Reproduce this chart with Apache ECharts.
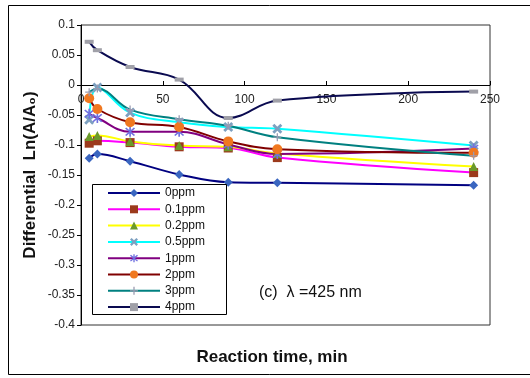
<!DOCTYPE html>
<html>
<head>
<meta charset="utf-8">
<script src="https://cdn.jsdelivr.net/npm/echarts@6/dist/echarts.min.js"></script>
<style>html,body{margin:0;padding:0;background:#fff;}#c{width:530px;height:378px;}</style>
</head>
<body>
<div id="c"></div>
<script>
const times = [5, 10, 30, 60, 90, 120, 240];
const seriesNames = ['0ppm', '0.1ppm', '0.2ppm', '0.5ppm', '1ppm', '2ppm', '3ppm', '4ppm'];
const ppm0   = [-0.122, -0.115, -0.127, -0.149, -0.162, -0.163, -0.167];
const ppm01  = [-0.097, -0.093, -0.096, -0.103, -0.105, -0.121, -0.146];
const ppm02  = [-0.086, -0.084, -0.094, -0.101, -0.103, -0.114, -0.136];
const ppm05  = [-0.058, -0.004, -0.046, -0.062, -0.070, -0.073, -0.101];
const ppm1   = [-0.048, -0.055, -0.078, -0.078, -0.099, -0.115, -0.106];
const ppm2   = [-0.022, -0.040, -0.062, -0.070, -0.094, -0.107, -0.113];
const ppm3   = [-0.012, -0.006, -0.041, -0.057, -0.068, -0.087, -0.118];
const ppm4   = [0.072, 0.058, 0.030, 0.009, -0.055, -0.026, -0.011];
const yTicks = ['0.1','0.05','0','-0.05','-0.1','-0.15','-0.2','-0.25','-0.3','-0.35','-0.4'];

const allData = [ppm0, ppm01, ppm02, ppm05, ppm1, ppm2, ppm3, ppm4];
const lineColors = ['#000080', '#ff00ff', '#ffff00', '#00ffff', '#800080', '#800000', '#008080', '#0a0a50'];
const markColors = ['#3a66c0', '#9c3a1c', '#6b9a2a', '#7da0c0', '#7070e0', '#f07820', '#9a9ab0', '#a0a0a8'];
const X = 'path://M2,0 L5,3 L8,0 L10,2 L7,5 L10,8 L8,10 L5,7 L2,10 L0,8 L3,5 L0,2 Z';
const STAR = 'path://M4.3,0 H5.7 V10 H4.3 Z M0.8,1.8 L1.8,0.8 L9.2,8.2 L8.2,9.2 Z M8.2,0.8 L9.2,1.8 L1.8,9.2 L0.8,8.2 Z';
const PLUS = 'path://M4.2,0 H5.8 V4.2 H10 V5.8 H5.8 V10 H4.2 V5.8 H0 V4.2 H4.2 Z';
const DASH = 'path://M0,4 H10 V6 H0 Z';
const symbols = ['diamond', 'rect', 'triangle', X, STAR, 'circle', PLUS, DASH];
const sizes = [9, 9, 9, 10, 10, 10, 8, [9, 4]];

const series = seriesNames.map((n, i) => ({
  name: n,
  type: 'line',
  smooth: 0.4,
  data: times.map((t, j) => [t, allData[i][j]]),
  symbol: symbols[i],
  symbolSize: sizes[i],
  showAllSymbol: true,
  lineStyle: { color: lineColors[i], width: 2 },
  itemStyle: { color: markColors[i], borderWidth: 0 },
  emphasis: { disabled: true },
  z: 2
}));

const chart = echarts.init(document.getElementById('c'), null, { renderer: 'canvas' });
chart.setOption({
  animation: false,
  backgroundColor: '#fff',
  grid: { left: 81, right: 40, top: 25, bottom: 53, show: true, borderColor: '#333', borderWidth: 1, backgroundColor: 'transparent' },
  xAxis: {
    type: 'value', min: 0, max: 250, interval: 50, offset: -240,
    axisLine: { onZero: false, lineStyle: { color: '#000', width: 1 } },
    axisTick: { show: true, inside: true, length: 4, lineStyle: { color: '#000' } },
    axisLabel: { color: '#222', fontSize: 12, fontFamily: 'Liberation Sans, Arial', margin: 9 },
    splitLine: { show: false }
  },
  yAxis: {
    type: 'value', min: -0.4, max: 0.1, interval: 0.05,
    axisLine: { show: true, lineStyle: { color: '#000', width: 1 } },
    axisTick: { show: true, length: 4, lineStyle: { color: '#000' } },
    axisLabel: { color: '#222', fontSize: 12, fontFamily: 'Liberation Sans, Arial', margin: 6,
      formatter: v => { const s = yTicks.find(t => Math.abs(parseFloat(t) - v) < 1e-6); return s !== undefined ? s : ''; } },
    splitLine: { show: false }
  },
  legend: {
    orient: 'vertical', left: 102, top: 182, z: 20,
    itemWidth: 52, itemHeight: 10, itemGap: 4.3,
    textStyle: { fontSize: 12, color: '#111', fontFamily: 'Liberation Sans, Arial', lineHeight: 12 },
    data: seriesNames, selectedMode: false
  },
  graphic: [
    { type: 'rect', shape: { x: 8.5, y: 5.5, width: 530, height: 369 }, style: { fill: 'none', stroke: '#000', lineWidth: 1 }, silent: true, z: 0 },
    { type: 'rect', shape: { x: 92.5, y: 184.5, width: 134, height: 130 }, style: { fill: '#fff', stroke: '#000', lineWidth: 1 }, silent: true, z: 5 },
    { type: 'text', x: 259, y: 293, style: { text: '(c)  λ =425 nm', font: '16px "Liberation Sans", Arial', fill: '#111', verticalAlign: 'middle' }, z: 20 },
    { type: 'text', x: 272, y: 357, style: { text: 'Reaction time, min', font: 'bold 17px "Liberation Sans", Arial', fill: '#111', align: 'center', verticalAlign: 'middle' }, z: 20 },
    { type: 'text', x: 30, y: 175, rotation: Math.PI / 2, style: { text: 'Differential  Ln(A/A\u2080)', font: 'bold 17px "Liberation Sans", Arial', fill: '#111', align: 'center', verticalAlign: 'middle' }, z: 20 }
  ],
  series: series
});
</script>
</body>
</html>
